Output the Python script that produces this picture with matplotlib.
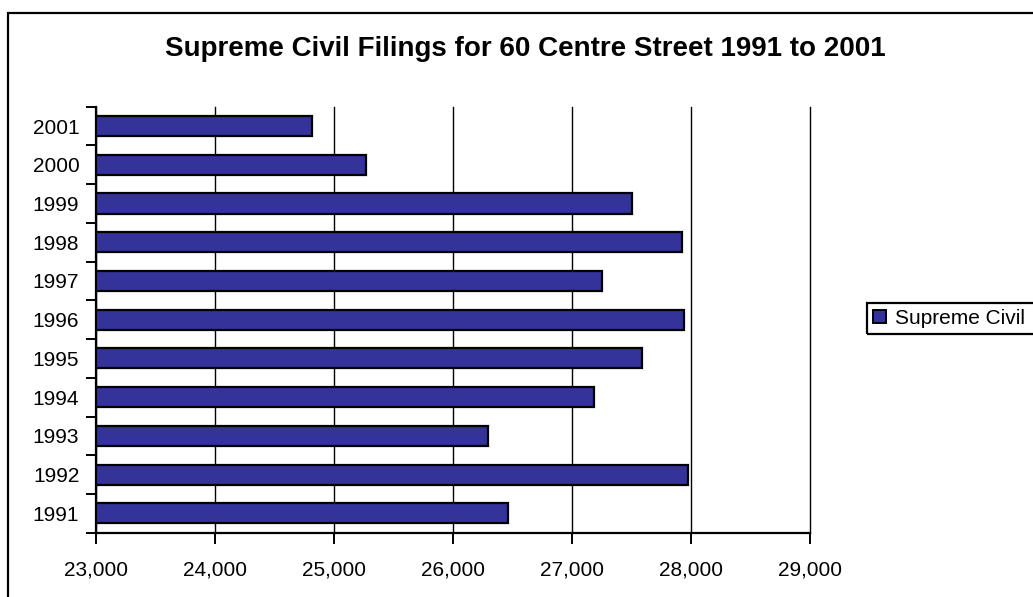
import matplotlib
matplotlib.use("Agg")
import matplotlib.pyplot as plt
from matplotlib.patches import Rectangle
from matplotlib.ticker import FuncFormatter, FixedLocator

years = ["1991", "1992", "1993", "1994", "1995", "1996",
         "1997", "1998", "1999", "2000", "2001"]
filings = [26460, 27975, 26295, 27185, 27590, 27940,
           27250, 27925, 27505, 25270, 24815]
series_name = "Supreme Civil"
title = "Supreme Civil Filings for 60 Centre Street 1991 to 2001"
x_ticks = [23000, 24000, 25000, 26000, 27000, 28000, 29000]

plt.rcParams["font.family"] = ["Liberation Sans", "DejaVu Sans"]

W, H = 1033, 597
fig = plt.figure(figsize=(W / 100, H / 100), dpi=100)
fig.patch.set_facecolor("white")

ax = fig.add_axes([96 / W, 1 - 532.7 / H, (810 - 96) / W, (532.7 - 106.7) / H])

pos = list(range(len(years)))
ax.barh(pos, filings, height=0.52, color="#333399", edgecolor="black",
        linewidth=1.6, label=series_name, zorder=3)

ax.set_xlim(x_ticks[0], x_ticks[-1])
ax.set_ylim(-0.5, len(years) - 0.5)
ax.xaxis.set_major_locator(FixedLocator(x_ticks))
ax.xaxis.set_major_formatter(FuncFormatter(lambda v, p: f"{int(v):,}"))
ax.grid(axis="x", color="black", linewidth=1.0, zorder=0)
for gl in ax.get_xgridlines():
    gl.set_clip_on(False)

# category labels centred on bars, tick marks on category boundaries
ax.set_yticks(pos)
ax.set_yticklabels(years)
ax.set_yticks([p - 0.5 for p in pos] + [len(years) - 0.5], minor=True)
ax.tick_params(axis="y", which="major", length=0, pad=12, labelsize=15)
ax.tick_params(axis="y", which="minor", length=7, width=1.4, direction="out")
ax.tick_params(axis="x", length=8, width=1.4, direction="out", pad=12,
               labelsize=15)

for side in ("top", "right"):
    ax.spines[side].set_visible(False)
for side in ("left", "bottom"):
    ax.spines[side].set_linewidth(1.6)
    ax.spines[side].set_zorder(4)

fig.text(525.5 / W, 1 - 49 / H, title, ha="center", va="center",
         fontsize=20, fontweight="bold")

# legend entry, with its box running off the right edge of the chart
leg = fig.legend(loc="upper left", bbox_to_anchor=(867 / W, 1 - 302.5 / H),
                 fontsize=15, frameon=False,
                 handlelength=0.6, handleheight=0.6, handletextpad=0.45,
                 borderpad=0.3, borderaxespad=0)
for h in leg.legend_handles:
    h.set_linewidth(1.4)
fig.patches.append(Rectangle((867 / W, 1 - 334.3 / H), 190 / W, 31.6 / H,
                             transform=fig.transFigure, fill=False,
                             edgecolor="black", linewidth=1.6))

fig.patches.append(Rectangle((8 / W, -0.1), 1.2, 1.1 - 13 / H,
                             transform=fig.transFigure, fill=False,
                             edgecolor="black", linewidth=1.6, zorder=0))

fig.savefig("out.png", dpi=100, facecolor="white")
